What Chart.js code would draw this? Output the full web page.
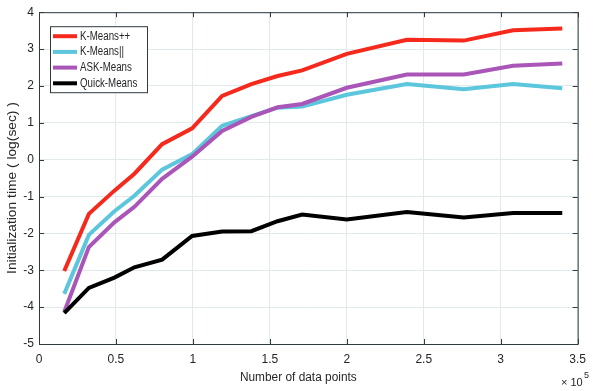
<!DOCTYPE html>
<html>
<head>
<meta charset="utf-8">
<script src="https://cdn.jsdelivr.net/npm/chart.js@4.4.1/dist/chart.umd.min.js"></script>
<style>
  html, body { margin: 0; padding: 0; background: #fff; }
  #wrap { width: 594px; height: 391px; }
</style>
</head>
<body>
<div id="wrap"><canvas id="chart" width="594" height="391"></canvas></div>
<script>
/* Initialization time vs number of data points (x in units of 1e5) */

const nPoints    = [0.164, 0.324, 0.49, 0.62, 0.80, 0.995, 1.19, 1.38, 1.55, 1.71, 2.0, 2.39, 2.76, 3.08, 3.40];
const kmeansPP   = [-3.02, -1.47, -0.84, -0.38, 0.42, 0.85, 1.73, 2.05, 2.27, 2.42, 2.87, 3.25, 3.23, 3.51, 3.56];
const kmeansPar  = [-3.64, -2.04, -1.40, -0.98, -0.27, 0.15, 0.92, 1.18, 1.41, 1.44, 1.76, 2.05, 1.91, 2.05, 1.94];
const askMeans   = [-4.13, -2.37, -1.70, -1.28, -0.52, 0.08, 0.78, 1.16, 1.42, 1.51, 1.95, 2.31, 2.31, 2.55, 2.61];
const quickMeans = [-4.16, -3.48, -3.20, -2.92, -2.71, -2.07, -1.95, -1.94, -1.67, -1.49, -1.62, -1.42, -1.57, -1.45, -1.45];

const seriesNames  = ['K-Means++', 'K-Means||', 'ASK-Means', 'Quick-Means'];
const seriesColors = ['#f5291c', '#5cc6dc', '#a956b8', '#000000'];
const seriesValues = [kmeansPP, kmeansPar, askMeans, quickMeans];

const xTicks = [0, 0.5, 1, 1.5, 2, 2.5, 3, 3.5];
const yTicks = [-5, -4, -3, -2, -1, 0, 1, 2, 3, 4];

const FONT = "'Liberation Sans', Arial, Helvetica, sans-serif";
const AXIS_COLOR = '#2e3a3f';
const TEXT_COLOR = '#262626';

const datasets = seriesNames.map((name, i) => ({
  label: name,
  data: nPoints.map((x, j) => ({ x, y: seriesValues[i][j] })),
  borderColor: seriesColors[i],
  backgroundColor: seriesColors[i],
  borderWidth: 4,
  pointRadius: 0,
  tension: 0,
  order: 3 - i,
}));

/* box, inward ticks, titles, legend — MATLAB look */
const matlabAxes = {
  id: 'matlabAxes',
  afterDraw(chart) {
    const { ctx, chartArea: a, scales } = chart;
    const sx = scales.x, sy = scales.y;
    ctx.save();

    ctx.strokeStyle = AXIS_COLOR;
    ctx.lineWidth = 1;
    ctx.strokeRect(a.left + 0.5, a.top + 0.5, a.right - a.left, a.bottom - a.top);

    ctx.beginPath();
    xTicks.forEach(v => {
      const px = Math.round(sx.getPixelForValue(v)) + 0.5;
      ctx.moveTo(px, a.bottom); ctx.lineTo(px, a.bottom - 5);
      ctx.moveTo(px, a.top);    ctx.lineTo(px, a.top + 5);
    });
    yTicks.forEach(v => {
      const py = Math.round(sy.getPixelForValue(v)) + 0.5;
      ctx.moveTo(a.left, py);  ctx.lineTo(a.left + 5, py);
      ctx.moveTo(a.right, py); ctx.lineTo(a.right - 5, py);
    });
    ctx.stroke();

    ctx.fillStyle = TEXT_COLOR;
    ctx.textBaseline = 'middle';

    // x title
    ctx.save();
    ctx.font = '12.5px ' + FONT;
    ctx.textAlign = 'center';
    ctx.translate((a.left + a.right) / 2 - 10, 377);
    ctx.scale(0.95, 1.05);
    ctx.fillText('Number of data points', 0, 0);
    ctx.restore();

    // y title
    ctx.save();
    ctx.font = '12px ' + FONT;
    ctx.textAlign = 'center';
    ctx.translate(13, 188);
    ctx.rotate(-Math.PI / 2);
    ctx.scale(1.15, 1);
    ctx.fillText('Initialization time ( log(sec) )', 0, 0);
    ctx.restore();

    // exponent
    ctx.font = '11px ' + FONT;
    ctx.textAlign = 'left';
    ctx.fillText('\u00d7 10', 561, 383);
    ctx.font = '9px ' + FONT;
    ctx.fillText('5', 584, 376);

    // legend
    const lx = a.left + 11, ly = a.top + 14, lw = 97, lh = 66;
    ctx.fillStyle = '#fff';
    ctx.fillRect(lx, ly, lw, lh);
    ctx.strokeStyle = AXIS_COLOR;
    ctx.strokeRect(lx + 0.5, ly + 0.5, lw, lh);
    chart.data.datasets.forEach((ds, i) => {
      const ry = ly + 10 + i * 15.7;
      ctx.strokeStyle = ds.borderColor;
      ctx.lineWidth = 4;
      ctx.beginPath();
      ctx.moveTo(lx + 3, ry); ctx.lineTo(lx + 27, ry);
      ctx.stroke();
      ctx.save();
      ctx.fillStyle = TEXT_COLOR;
      ctx.font = '12px ' + FONT;
      ctx.translate(lx + 30, ry);
      ctx.scale(0.81, 1);
      ctx.fillText(ds.label, 0, 0);
      ctx.restore();
    });

    ctx.restore();
  }
};

new Chart(document.getElementById('chart'), {
  type: 'line',
  data: { datasets },
  options: {
    responsive: false,
    animation: false,
    layout: { padding: { top: 7, right: 6, left: 0, bottom: 0 } },
    plugins: { legend: { display: false }, tooltip: { enabled: false } },
    scales: {
      x: {
        type: 'linear',
        min: 0, max: 3.5,
        afterBuildTicks: s => { s.ticks = xTicks.map(v => ({ value: v })); },
        afterFit: s => { s.height = 47; },
        ticks: { color: TEXT_COLOR, font: { family: FONT, size: 12 }, padding: 8, maxRotation: 0, autoSkip: false,
                 callback: v => String(v) },
        grid: { color: '#e1e9ed', drawTicks: false },
        border: { display: false },
      },
      y: {
        min: -5, max: 4,
        afterBuildTicks: s => { s.ticks = yTicks.map(v => ({ value: v })); },
        afterFit: s => { s.width = 39; },
        ticks: { color: TEXT_COLOR, font: { family: FONT, size: 12 }, padding: 5, autoSkip: false,
                 callback: v => String(v) },
        grid: { color: '#e1e9ed', drawTicks: false },
        border: { display: false },
      },
    },
  },
  plugins: [matlabAxes],
});
</script>
</body>
</html>
